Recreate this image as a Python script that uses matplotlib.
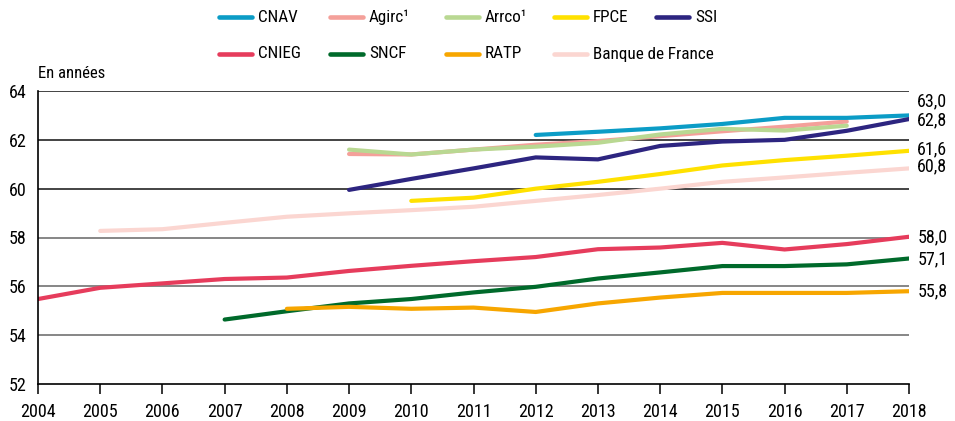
import numpy as np
import matplotlib.pyplot as plt
from matplotlib.lines import Line2D

# font - condensed look like the reference
plt.rcParams['font.family'] = ['Roboto Condensed', 'DejaVu Sans']

# data (NaN = no value for that year)
nan = np.nan
years = [2004, 2005, 2006, 2007, 2008, 2009, 2010, 2011, 2012, 2013, 2014, 2015, 2016, 2017, 2018]

cnav = [nan, nan, nan, nan, nan, nan, nan, nan, 62.2, 62.33, 62.47, 62.65, 62.9, 62.9, 63.0]
agirc = [nan, nan, nan, nan, nan, 61.42, 61.4, 61.6, 61.8, 61.95, 62.15, 62.35, 62.54, 62.75, nan]
arrco = [nan, nan, nan, nan, nan, 61.6, 61.4, 61.6, 61.72, 61.88, 62.22, 62.45, 62.38, 62.58, nan]
fpce = [nan, nan, nan, nan, nan, nan, 59.5, 59.63, 60.0, 60.28, 60.6, 60.95, 61.17, 61.35, 61.55]
ssi = [nan, nan, nan, nan, nan, 59.95, 60.4, 60.83, 61.28, 61.2, 61.75, 61.93, 62.0, 62.37, 62.85]
cnieg = [55.48, 55.94, 56.12, 56.3, 56.36, 56.63, 56.84, 57.03, 57.2, 57.52, 57.59, 57.78, 57.51, 57.73, 58.03]
sncf = [nan, nan, nan, 54.64, 54.98, 55.3, 55.48, 55.75, 55.98, 56.32, 56.57, 56.83, 56.83, 56.9, 57.14]
ratp = [nan, nan, nan, nan, 55.08, 55.16, 55.08, 55.13, 54.95, 55.3, 55.54, 55.73, 55.73, 55.73, 55.8]
bdf = [nan, 58.27, 58.34, 58.6, 58.85, 58.99, 59.12, 59.26, 59.5, 59.74, 60.0, 60.28, 60.46, 60.65, 60.83]

# end labels (text, value)
end_labels = ["63,0", "62,8", "61,6", "60,8", "58,0", "57,1", "55,8"]
end_values = [63.0, 62.8, 61.6, 60.8, 58.0, 57.1, 55.8]

y_ticks = [52, 54, 56, 58, 60, 62, 64]

# colors
c_cnav = '#0b9cc6'
c_agirc = '#f4a09a'
c_arrco = '#b9d892'
c_fpce = '#ffe100'
c_ssi = '#2d2580'
c_cnieg = '#e63c5c'
c_sncf = '#006a2b'
c_ratp = '#f7a600'
c_bdf = '#fbd6d1'

fig = plt.figure(figsize=(9.55, 4.21), dpi=100)
ax = fig.add_axes([38/955, 1 - 384/421, (909 - 38)/955, (384 - 91)/421])

lw = 3.0
style = dict(lw=lw, solid_capstyle='round', solid_joinstyle='round')

# drawing order (bottom first)
ax.plot(years, bdf, color=c_bdf, **style)
ax.plot(years, sncf, color=c_sncf, **style)
ax.plot(years, ratp, color=c_ratp, **style)
ax.plot(years, cnieg, color=c_cnieg, **style)
ax.plot(years, fpce, color=c_fpce, **style)
ax.plot(years, agirc, color=c_agirc, **style)
ax.plot(years, arrco, color=c_arrco, **style)
ax.plot(years, cnav, color=c_cnav, **style)
ax.plot(years, ssi, color=c_ssi, **style)

ax.set_xlim(2004, 2018)
ax.set_ylim(52, 64)

# horizontal grid lines
for v in y_ticks[1:]:
    col = '#111111' if v >= 60 else '#666666'
    ax.axhline(v, color=col, lw=1.1, zorder=0)

ax.spines['right'].set_visible(False)
ax.spines['top'].set_visible(False)
ax.spines['left'].set_linewidth(1.2)
ax.spines['bottom'].set_linewidth(1.2)

ax.set_xticks(years)
ax.set_xticklabels([str(y) for y in years])
ax.set_yticks(y_ticks)
ax.tick_params(axis='x', direction='out', length=7, width=1.1, pad=7, labelsize=13)
ax.tick_params(axis='y', length=0, pad=8, labelsize=13)

# values at the right end
offsets = [10, 0, 0, 2, 0, 0, 0]
for txt, val, dy in zip(end_labels, end_values, offsets):
    ax.annotate(txt, xy=(2018, val), xytext=(6, dy), textcoords='offset points',
                va='center', ha='left', fontsize=13, annotation_clip=False)

fig.text(38/955, 1 - 73/421, "En années", fontsize=12, va='center', ha='left')

# legend drawn by hand, two rows
leg_names = ["CNAV", "Agirc¹", "Arrco¹", "FPCE", "SSI",
             "CNIEG", "SNCF", "RATP", "Banque de France"]
leg_colors = [c_cnav, c_agirc, c_arrco, c_fpce, c_ssi,
              c_cnieg, c_sncf, c_ratp, c_bdf]
leg_x = [219, 330, 446, 554, 656, 219, 330, 446, 554]
leg_y = [17, 17, 17, 17, 17, 54, 54, 54, 54]
for name, col, lx, ly in zip(leg_names, leg_colors, leg_x, leg_y):
    yf = 1 - ly/421
    fig.add_artist(Line2D([lx/955, (lx + 33)/955], [yf, yf], color=col,
                          lw=lw + 0.3, solid_capstyle='round'))
    fig.text((lx + 39)/955, yf, name, fontsize=12.3, va='center', ha='left')

fig.savefig("out.png", dpi=100)
